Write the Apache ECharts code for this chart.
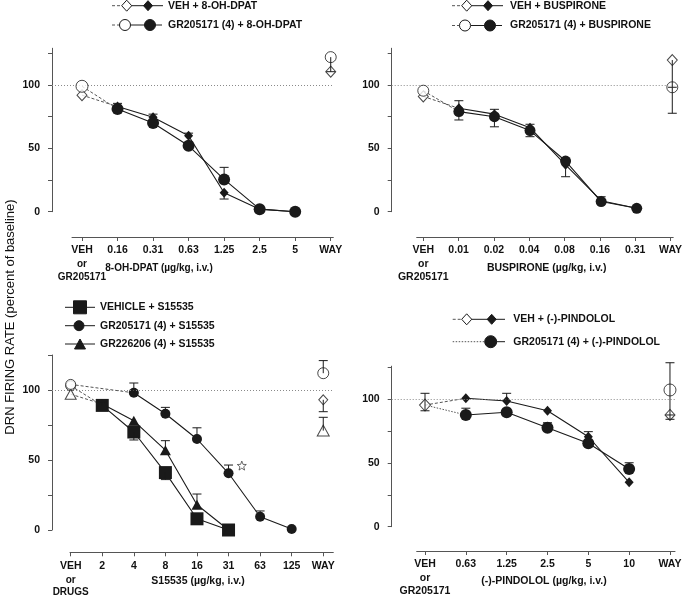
<!DOCTYPE html>
<html>
<head>
<meta charset="utf-8">
<script src="https://cdn.jsdelivr.net/npm/echarts@6/dist/echarts.min.js"></script>
<style>html,body{margin:0;padding:0;background:#fff}#c{width:685px;height:598px}</style>
</head>
<body>
<div id="c"></div>
<script>
/* ---------- data (percent of baseline; index 0 = VEH, last = WAY) ---------- */
const yTicks  = [0, 25, 50, 75, 100, 125];
const yLabels = [0, 50, 100];

const dpatTicks  = ['VEH','0.16','0.31','0.63','1.25','2.5','5','WAY'];
const dpatVehSub = ['or', 'GR205171'];
const dpatVeh    = [92, 83, 74.5, 60, 15, 2, 0, 110.5];
const dpatVehErr = [null, 85.5, 77, 62, 10, null, null, null];
const dpatGR     = [99, 81, 70, 52, 25.5, 2, 0, 122];
const dpatGRErr  = [null, null, null, null, 35, null, null, 110.5];

const buspTicks  = ['VEH','0.01','0.02','0.04','0.08','0.16','0.31','WAY'];
const buspVehSub = ['or', 'GR205171'];
const buspVeh    = [91, 81.6, 77, 66.3, 37, 8.7, 2.7, 119.7];
const buspVehErr = [null, 87.6, 80.8, 69, 27.6, 11.8, null, 98.2];
const buspGR     = [95.5, 79, 75, 64, 40, 8, 2.7, 98.2];
const buspGRErr  = [null, 72.4, 67, 59.2, null, null, null, 77.7];

const s155Ticks     = ['VEH','2','4','8','16','31','63','125','WAY'];
const s155VehSub    = ['or', 'DRUGS'];
const s155Veh       = [103, 89, 70, 41, 8, 0, null, null, 93];
const s155VehErr    = [null, 91.7, 64.3, 36, null, null, null, null, 84.5];
const s155GR        = [104, null, 98, 83, 65, 40.5, 9.5, 0.7, 112];
const s155GRErr     = [null, null, 105, 87.6, 73, 46.4, 13.6, null, 121];
const s155GR226     = [97, 90, 78, 57, 18, 0, null, null, 71];
const s155GR226Err  = [null, null, null, 63.8, 25.7, null, null, null, 80.5];
const s155Star      = [[5.42, 46]];   // open star beside 31 µg/kg (dose-index units)

const pindTicks  = ['VEH','0.63','1.25','2.5','5','10','WAY'];
const pindVehSub = ['or', 'GR205171'];
const pindVeh    = [95.5, 100.8, 98.7, 91, 70.6, 34.8, 87.7];
const pindVehErr = [104.7, null, 104.7, null, 74.6, null, 84.3];
const pindGR     = [95.5, 87.7, 89.8, 77.7, 65.5, 45.3, 107.3];
const pindGRErr  = [91, 93, null, 81.6, null, 50.2, [128.7, 87.7]];

/* ---------- look ---------- */
const W = 685, H = 598;
const FONT = '"Liberation Sans", Arial, Helvetica, sans-serif';
const INK = '#1a1a1a', AXC = '#555', LINK = '#555';
const LBL = {color:'#111', fontSize:10.5, fontWeight:'bold', fontFamily:FONT};
const OFF = 1;   // dose positions run 1..n on the value axes
const r3 = x => Math.round(x * 1000) / 1000;

const panels = [
  { ticks:dpatTicks, sub:dpatVehSub, subSize:10, yMax:129, yAxisX:52, y0:211.7, y100:85, xVeh:82, step:35.53,
    axStart:72, axEnd:333.3, axY:237, plotEnd:332,
    title:'8-OH-DPAT (µg/kg, i.v.)', tx:159, ty:268, tSize:10,
    groups:[
      {vals:dpatVeh, err:dpatVehErr, mark:'diamond', size:[9,10], veh:'diamond', vehSize:[10,11], way:'diamond', waySize:[10,11], link:'dashed'},
      {vals:dpatGR,  err:dpatGRErr,  mark:'circle',  size:12,     veh:'circle',  vehSize:12,      way:'circle',  waySize:11,      link:'dashed'}
    ]},
  { ticks:buspTicks, sub:buspVehSub, subSize:10.5, yMax:129, yAxisX:391.7, y0:211.7, y100:85, xVeh:423.3, step:35.57,
    axStart:416.7, axEnd:675, axY:237, plotEnd:675,
    title:'BUSPIRONE (µg/kg, i.v.)', tx:546.7, ty:268, tSize:10.5,
    groups:[
      {vals:buspVeh, err:buspVehErr, mark:'diamond', size:[9,10], veh:'diamond', vehSize:[10,11], way:'diamond', waySize:[10,11], link:'dashed'},
      {vals:buspGR,  err:buspGRErr,  mark:'circle',  size:11,     veh:'circle',  vehSize:11,      way:'circle',  waySize:11,      link:'dashed'}
    ]},
  { ticks:s155Ticks, sub:s155VehSub, subSize:10, yMax:125, yAxisX:52, y0:530, y100:390, xVeh:70.7, step:31.57,
    axStart:70, axEnd:333.3, axY:552.3, plotEnd:332,
    title:'S15535 (µg/kg, i.v.)', tx:198, ty:581, tSize:10.5,
    star:s155Star,
    groups:[
      {vals:s155Veh,   err:s155VehErr,   mark:'rect',     size:13,      veh:'circle',   vehSize:10,      way:'diamond',  waySize:[9,10], link:'dashed'},
      {vals:s155GR226, err:s155GR226Err, mark:'triangle', size:[11,10], veh:'triangle', vehSize:[11,10], way:'triangle', waySize:[12,11], link:'dashed'},
      {vals:s155GR,    err:s155GRErr,    mark:'circle',   size:10,      veh:'circle',   vehSize:10,      way:'circle',   waySize:11,     link:'dashed'}
    ]},
  { ticks:pindTicks, sub:pindVehSub, subSize:10.5, yMax:126, yAxisX:391.7, y0:526.7, y100:399.3, xVeh:425, step:40.83,
    axStart:416.7, axEnd:675, axY:551, plotEnd:675,
    title:'(-)-PINDOLOL (µg/kg, i.v.)', tx:544, ty:581.5, tSize:10.5,
    groups:[
      {vals:pindVeh, err:pindVehErr, mark:'diamond', size:[9,10], veh:'diamond', vehSize:[11,12], way:'diamond', waySize:[10,11], link:'dashed'},
      {vals:pindGR,  err:pindGRErr,  mark:'circle',  size:12,     veh:'none',    vehSize:0,       way:'circle',  waySize:12,      link:'dotted'}
    ]}
];

const grids = [], xAxes = [], yAxes = [], series = [];

function errItem(params, api){
  const a = api.coord([api.value(0), api.value(1)]);
  const b = api.coord([api.value(0), api.value(2)]);
  return {type:'group', children:[
    {type:'line', shape:{x1:a[0], y1:a[1], x2:b[0], y2:b[1]}, style:{stroke:INK, lineWidth:1}},
    {type:'line', shape:{x1:b[0]-4.5, y1:b[1], x2:b[0]+4.5, y2:b[1]}, style:{stroke:INK, lineWidth:1}}
  ]};
}

panels.forEach((p, k) => {
  const pg = 2*k, ag = 2*k+1;
  const ppu = (p.y0 - p.y100) / 100;
  const top = p.y0 - p.yMax * ppu;
  const last = p.ticks.length - 1;
  const pos = p.ticks.map((t, i) => i + OFF);

  // plot grid: y axis + data
  grids.push({left:p.yAxisX, right:W-p.plotEnd, top:top, bottom:H-p.y0});
  xAxes.push({gridIndex:pg, type:'value', show:false, axisLine:{onZero:false},
    min:r3(OFF + (p.yAxisX - p.xVeh)/p.step), max:r3(OFF + (p.plotEnd - p.xVeh)/p.step)});
  yAxes.push({gridIndex:pg, type:'value', min:0, max:p.yMax,
    axisLine:{show:true, onZero:false, lineStyle:{color:AXC, width:1}},
    axisTick:{show:true, length:4, customValues:yTicks, lineStyle:{color:AXC}},
    axisLabel:{...LBL, margin:12, customValues:yLabels},
    splitLine:{show:false}});

  // separate dose axis, offset below
  grids.push({left:p.axStart, right:W-p.axEnd, top:p.axY-20, bottom:H-p.axY});
  xAxes.push({gridIndex:ag, type:'value',
    min:r3(OFF + (p.axStart - p.xVeh)/p.step), max:r3(OFF + (p.axEnd - p.xVeh)/p.step),
    axisLine:{show:true, onZero:false, lineStyle:{color:AXC, width:1}},
    axisTick:{show:true, length:4, customValues:pos, lineStyle:{color:AXC}},
    axisLabel:{...LBL, margin:8, customValues:pos, hideOverlap:false,
      showMinLabel:true, showMaxLabel:true,
      formatter:v => p.ticks[Math.round(v) - OFF]},
    splitLine:{show:false}});
  yAxes.push({gridIndex:ag, type:'value', show:false, min:0, max:1, axisLine:{onZero:false}});

  p.groups.forEach((g, gi) => {
    const v = g.vals;
    const doses = [];
    for (let i = 1; i < last; i++) if (v[i] != null) doses.push([i + OFF, v[i]]);
    const ax = {xAxisIndex:pg, yAxisIndex:pg};

    if (v[0] != null && doses.length)
      series.push({type:'line', ...ax, data:[[OFF, v[0]], doses[0]], symbol:'none', silent:true, z:2,
        lineStyle:{color:LINK, width:1, type: g.link === 'dotted' ? [1.5,1.5] : [3,2]}});

    const solid = {type:'line', ...ax, data:doses, symbol:g.mark, symbolSize:g.size, clip:false, z:3,
      itemStyle:{color:INK}, lineStyle:{color:INK, width:1.1}};
    if (gi === 0) solid.markLine = {silent:true, symbol:['none','none'], label:{show:false},
      lineStyle:{color:'#8a8a8a', width:1, type:[1,2]}, data:[{yAxis:100}]};
    series.push(solid);

    const opens = [];
    if (g.veh !== 'none' && v[0] != null) opens.push({value:[OFF, v[0]], symbol:g.veh, symbolSize:g.vehSize});
    if (v[last] != null) opens.push({value:[last + OFF, v[last]], symbol:g.way, symbolSize:g.waySize});
    series.push({type:'scatter', ...ax, data:opens, z:5, clip:false,
      itemStyle:{color:'#fff', borderColor:INK, borderWidth:1}});

    const errs = [];
    g.err.forEach((e, i) => { if (e == null) return; [].concat(e).forEach(end => errs.push([i + OFF, v[i], end])); });
    series.push({type:'custom', ...ax, data:errs, renderItem:errItem, z:6, silent:true});
  });

  if (p.star) series.push({type:'scatter', xAxisIndex:pg, yAxisIndex:pg, z:5,
    data:p.star.map(s => [s[0] + OFF, s[1]]),
    symbol:'path://M12,1 L14.9,8.6 L23,9 L16.7,14.2 L18.8,22 L12,17.6 L5.2,22 L7.3,14.2 L1,9 L9.1,8.6 Z',
    symbolSize:9, itemStyle:{color:'#fff', borderColor:INK, borderWidth:0.8}});
});

/* ---------- legends and titles (graphic) ---------- */
function gSym(kind, x, y, w, h, open){
  const style = {fill: open ? '#fff' : INK, stroke: INK, lineWidth: 1};
  if (kind === 'circle') return {type:'circle', shape:{cx:x, cy:y, r:w/2}, style, z:100};
  if (kind === 'rect') return {type:'rect', shape:{x:x-w/2, y:y-h/2, width:w, height:h}, style, z:100};
  if (kind === 'diamond') return {type:'polygon', shape:{points:[[x,y-h/2],[x+w/2,y],[x,y+h/2],[x-w/2,y]]}, style, z:100};
  return {type:'polygon', shape:{points:[[x,y-h/2],[x+w/2,y+h/2],[x-w/2,y+h/2]]}, style, z:100};
}
function gSeg(x1, x2, y, dash){
  return {type:'line', shape:{x1, y1:y, x2, y2:y}, z:99,
    style:{stroke: dash ? LINK : INK, lineWidth:1, lineDash: dash || null}};
}
function gText(text, x, y, align, size){
  return {type:'text', x, y, z:100, style:{text, fill:'#111', font:'bold ' + (size || 10.5) + 'px ' + FONT,
    align: align || 'left', verticalAlign:'middle'}};
}

const graphic = [
  // 8-OH-DPAT
  gSeg(112,122,5.7,[3,2]), gSeg(131,163,5.7), gSym('diamond',126.7,5.7,10,11,true), gSym('diamond',148,5.7,9,10,false),
  gText('VEH + 8-OH-DPAT',168,5.7),
  gSeg(112,120,25,[3,2]), gSeg(131,162,25), gSym('circle',125,25,11,11,true), gSym('circle',150,25,11,11,false),
  gText('GR205171 (4) + 8-OH-DPAT',168,25),
  // buspirone
  gSeg(452,462,5.7,[3,2]), gSeg(471,503,5.7), gSym('diamond',466.7,5.7,10,11,true), gSym('diamond',488,5.7,9,10,false),
  gText('VEH + BUSPIRONE',510,5.7),
  gSeg(452,460,25.5,[3,2]), gSeg(471,502,25.5), gSym('circle',465,25.5,11,11,true), gSym('circle',490,25.5,11,11,false),
  gText('GR205171 (4) + BUSPIRONE',510,25.5),
  // S15535
  gSeg(65,95,307.3), gSym('rect',80,307.3,13,13,false), gText('VEHICLE + S15535',100,307.3),
  gSeg(65,95,325.7), gSym('circle',79,325.7,10,10,false), gText('GR205171 (4) + S15535',100,325.7),
  gSeg(65,95,344), gSym('triangle',80,344,11,10,false), gText('GR226206 (4) + S15535',100,344),
  // pindolol
  gSeg(452.7,462,319.3,[3,2]), gSeg(471,505,319.3), gSym('diamond',466.7,319.3,10,11,true), gSym('diamond',491.7,319.3,9,10,false),
  gText('VEH + (-)-PINDOLOL',513.3,319.3),
  gSeg(452.7,485,341.7,[1.5,1.5]), gSeg(495,505,341.7), gSym('circle',490.7,341.7,12,12,false),
  gText('GR205171 (4) + (-)-PINDOLOL',513.3,341.7),
  // y title
  {type:'text', x:10.5, y:317, rotation:Math.PI/2, z:100,
   style:{text:'DRN FIRING RATE (percent of baseline)', fill:'#111', font:'13px ' + FONT, align:'center', verticalAlign:'middle'}}
];
panels.forEach(p => {
  graphic.push(gText(p.title, p.tx, p.ty, 'center', p.tSize));
  // second and third lines under the VEH tick label
  p.sub.forEach((s, i) => graphic.push(gText(s, p.xVeh, p.axY + 27.5 + 12.8 * i, 'center', p.subSize)));
});

const chart = echarts.init(document.getElementById('c'), null, {renderer:'canvas'});
chart.setOption({
  animation:false,
  backgroundColor:'#fff',
  textStyle:{fontFamily:FONT},
  grid:grids, xAxis:xAxes, yAxis:yAxes, series, graphic
});
</script>
</body>
</html>
